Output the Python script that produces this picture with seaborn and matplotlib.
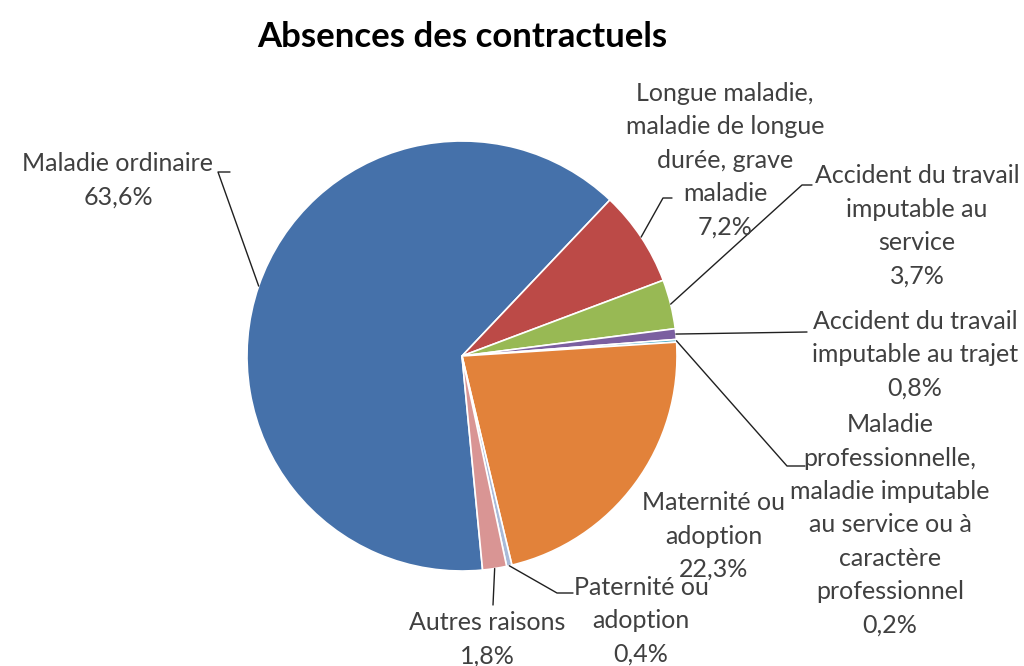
import numpy as np
import matplotlib
matplotlib.use("Agg")
import matplotlib.pyplot as plt
import seaborn as sns

# data
categories = [
    "Maladie ordinaire",
    "Longue maladie,\nmaladie de longue\ndurée, grave\nmaladie",
    "Accident du travail\nimputable au\nservice",
    "Accident du travail\nimputable au trajet",
    "Maladie\nprofessionnelle,\nmaladie imputable\nau service ou à\ncaractère\nprofessionnel",
    "Maternité ou\nadoption",
    "Paternité ou\nadoption",
    "Autres raisons",
]
values = [63.6, 7.2, 3.7, 0.8, 0.2, 22.3, 0.4, 1.8]
colors = ["#4571AA", "#BC4A47", "#98B954", "#7B5FA0", "#4BACC6",
          "#E2823A", "#A9BAD8", "#D99594"]

# label layout (pixel coords, y from top): text centre, elbow point, line end
label_pos = [(118, 180), (725, 160), (917, 226), (915, 355),
             (890, 525), (714, 536), (641, 621), (487, 639)]
elbows = [(218, 172), (663, 198), (802, 185), (807, 332),
          (787, 466), None, (557, 593), (493, 605)]
tails = [(230, 172), (672, 198), (812, 185), (807, 332),
         (805, 466), None, (573, 593), (493, 605)]

W, H = 1024, 666
center = (462, H - 356)
radius = 215

sns.set_theme(style="white")
plt.rcParams['font.family'] = ['Lato', 'DejaVu Sans']

fig = plt.figure(figsize=(W / 100, H / 100), dpi=100)
ax = fig.add_axes([0, 0, 1, 1])

wedges, _ = ax.pie(values, colors=colors, startangle=275.5, counterclock=False,
                   center=center, radius=radius, frame=True,
                   wedgeprops=dict(edgecolor="white", linewidth=1.2))
ax.set_xlim(0, W)
ax.set_ylim(0, H)
ax.set_aspect("equal")
ax.axis("off")

txt_color = "#404040"
for w, cat, v, (lx, ly), el, tl in zip(wedges, categories, values, label_pos, elbows, tails):
    label = f"{cat}\n{v:.1f}%".replace(".", ",")
    ax.text(lx, H - ly, label, ha="center", va="center", fontsize=18,
            color=txt_color, linespacing=1.55)
    if el is None:
        continue
    mid = np.deg2rad((w.theta1 + w.theta2) / 2)
    px = center[0] + radius * np.cos(mid)
    py = center[1] + radius * np.sin(mid)
    ax.plot([px, el[0], tl[0]], [py, H - el[1], H - tl[1]],
            color="#202020", linewidth=1.0)

fig.text(462 / W, 1 - 37 / H, "Absences des contractuels", ha="center", va="center",
         fontsize=25, fontweight="bold", color="black")

fig.savefig("out.png", dpi=100, facecolor="white")
